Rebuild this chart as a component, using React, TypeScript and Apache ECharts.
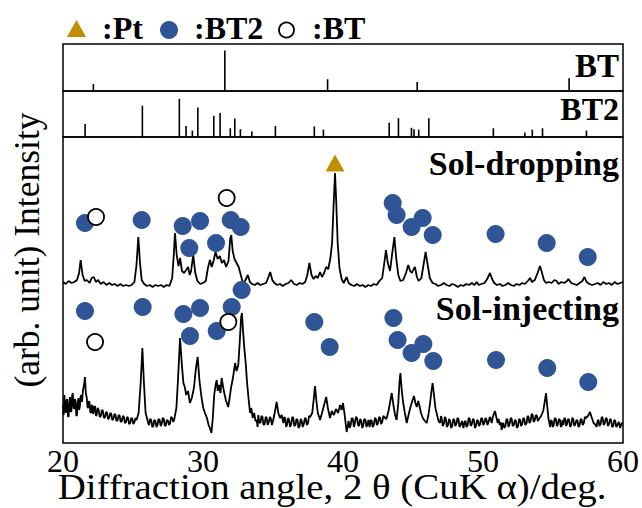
import React, { useEffect, useRef } from "react";
import * as echarts from "echarts";

// 2θ (deg) and relative stick heights of the reference patterns
const btPeaks: [number, number][] = [
  [22.17, 0.15], [31.56, 0.86], [38.9, 0.25], [45.3, 0.19], [56.15, 0.27],
];
const bt2Peaks: [number, number][] = [
  [21.58, 0.28], [25.67, 0.68], [28.31, 0.83], [28.79, 0.24], [29.24, 0.14],
  [29.63, 0.64], [30.77, 0.46], [31.22, 0.52], [31.95, 0.19], [32.27, 0.4],
  [32.67, 0.17], [33.49, 0.12], [35.17, 0.24], [37.95, 0.23], [38.6, 0.16],
  [43.3, 0.31], [43.96, 0.41], [44.89, 0.2], [45.07, 0.17], [45.41, 0.16],
  [46.13, 0.41], [50.74, 0.19], [52.99, 0.1], [53.52, 0.16], [54.25, 0.19],
  [57.39, 0.14],
];

// measured patterns (arb. unit, offset)
const solDropping: [number, number][] = [
  [20.0, 161], [20.2, 159], [20.4, 162], [20.6, 160], [20.8, 161], [21.0, 163], [21.15, 170], [21.26, 183],
  [21.4, 168], [21.55, 162], [21.7, 163], [21.9, 160], [22.05, 165], [22.2, 166], [22.35, 161], [22.5, 163],
  [22.7, 159], [22.9, 161], [23.1, 158], [23.3, 160], [23.5, 158], [23.7, 159], [23.9, 157], [24.1, 159],
  [24.3, 157], [24.5, 158], [24.7, 157], [24.9, 158], [25.1, 161], [25.25, 178], [25.38, 206], [25.5, 180],
  [25.62, 163], [25.8, 159], [26.0, 157], [26.2, 158], [26.4, 156], [26.6, 158], [26.8, 157], [27.0, 158],
  [27.2, 156], [27.4, 158], [27.6, 157], [27.8, 165], [27.92, 190], [28.0, 210], [28.12, 188], [28.25, 177],
  [28.36, 185], [28.5, 172], [28.65, 170], [28.8, 173], [28.93, 176], [29.05, 168], [29.15, 172], [29.3, 188],
  [29.45, 170], [29.6, 162], [29.8, 159], [30.0, 160], [30.2, 162], [30.35, 175], [30.5, 183], [30.62, 176],
  [30.75, 182], [30.9, 191], [31.05, 184], [31.2, 187], [31.35, 180], [31.5, 183], [31.65, 176], [31.82, 182],
  [31.95, 205], [32.02, 208], [32.12, 192], [32.25, 184], [32.4, 180], [32.55, 176], [32.7, 168], [32.85, 160],
  [33.0, 162], [33.2, 168], [33.35, 161], [33.5, 159], [33.7, 158], [33.9, 160], [34.1, 158], [34.3, 159],
  [34.5, 160], [34.65, 165], [34.8, 171], [34.95, 163], [35.1, 160], [35.3, 158], [35.5, 159], [35.7, 157],
  [35.9, 159], [36.1, 160], [36.3, 163], [36.5, 159], [36.7, 158], [36.9, 160], [37.1, 159], [37.3, 161],
  [37.45, 168], [37.6, 180], [37.75, 168], [37.9, 164], [38.05, 167], [38.2, 165], [38.36, 171], [38.5, 166],
  [38.65, 170], [38.8, 176], [38.95, 174], [39.1, 185], [39.22, 200], [39.32, 235], [39.43, 270], [39.52, 240],
  [39.62, 200], [39.75, 175], [39.9, 164], [40.05, 160], [40.26, 166], [40.4, 160], [40.6, 158], [40.8, 157],
  [41.0, 159], [41.2, 157], [41.4, 158], [41.6, 156], [41.8, 158], [42.0, 157], [42.2, 159], [42.4, 158],
  [42.6, 162], [42.8, 165], [42.95, 180], [43.07, 193], [43.2, 180], [43.36, 172], [43.5, 188], [43.67, 206],
  [43.8, 185], [43.95, 168], [44.1, 162], [44.3, 163], [44.5, 170], [44.66, 178], [44.8, 172], [44.92, 170],
  [45.05, 174], [45.14, 176], [45.28, 166], [45.4, 162], [45.6, 165], [45.75, 178], [45.9, 191], [46.05, 178],
  [46.2, 165], [46.4, 160], [46.6, 159], [46.8, 157], [47.0, 158], [47.2, 160], [47.4, 158], [47.6, 157],
  [47.8, 159], [48.0, 158], [48.2, 156], [48.4, 158], [48.6, 157], [48.8, 159], [49.0, 158], [49.2, 160],
  [49.4, 158], [49.55, 161], [49.7, 158], [49.9, 159], [50.1, 160], [50.3, 164], [50.5, 170], [50.65, 164],
  [50.8, 160], [51.0, 158], [51.2, 159], [51.4, 157], [51.6, 158], [51.8, 160], [52.0, 158], [52.2, 157],
  [52.4, 159], [52.6, 158], [52.8, 160], [53.0, 159], [53.2, 162], [53.36, 165], [53.5, 161], [53.7, 163],
  [53.9, 170], [54.07, 177], [54.2, 171], [54.35, 163], [54.5, 160], [54.7, 161], [54.9, 160], [55.1, 163],
  [55.26, 162], [55.4, 159], [55.6, 161], [55.8, 160], [56.0, 162], [56.1, 164], [56.3, 160], [56.5, 159],
  [56.7, 158], [56.9, 160], [57.1, 162], [57.24, 166], [57.4, 161], [57.6, 159], [57.8, 158], [58.0, 159],
  [58.2, 160], [58.4, 158], [58.6, 161], [58.8, 159], [59.0, 160], [59.2, 158], [59.4, 161], [59.6, 159],
  [59.8, 160], [60.0, 161],
];

const solInjecting: [number, number][] = [
  [20.0, 38], [20.05, 28], [20.1, 48], [20.15, 35], [20.2, 30], [20.25, 42], [20.3, 44], [20.35, 27],
  [20.4, 26], [20.45, 40], [20.5, 46], [20.55, 31], [20.6, 32], [20.65, 47], [20.7, 50], [20.75, 36],
  [20.8, 34], [20.85, 44], [20.9, 42], [20.95, 27], [21.0, 28], [21.05, 40], [21.1, 45], [21.15, 33],
  [21.2, 36], [21.25, 46], [21.3, 48], [21.36, 41], [21.42, 52], [21.5, 58], [21.57, 66], [21.63, 50],
  [21.7, 45], [21.75, 36], [21.8, 35], [21.85, 42], [21.9, 40], [21.95, 31], [22.0, 30], [22.05, 37],
  [22.1, 38], [22.15, 29], [22.2, 32], [22.25, 37], [22.3, 36], [22.35, 27], [22.4, 28], [22.48, 35],
  [22.55, 33], [22.62, 26], [22.7, 27], [22.78, 33], [22.85, 32], [22.92, 25], [23.0, 26], [23.08, 31],
  [23.15, 30], [23.22, 24], [23.3, 25], [23.38, 30], [23.45, 29], [23.52, 23], [23.6, 24], [23.68, 29],
  [23.75, 28], [23.82, 22], [23.9, 23], [23.98, 28], [24.05, 27], [24.12, 21], [24.2, 22], [24.28, 27],
  [24.35, 26], [24.42, 20], [24.5, 21], [24.58, 26], [24.65, 25], [24.72, 19], [24.8, 20], [24.88, 25],
  [24.95, 24], [25.02, 19], [25.1, 21], [25.18, 25], [25.25, 23], [25.4, 30], [25.55, 60], [25.67, 95],
  [25.78, 60], [25.9, 30], [26.0, 25], [26.08, 20], [26.15, 18], [26.22, 24], [26.3, 23], [26.38, 16],
  [26.45, 17], [26.52, 23], [26.6, 22], [26.68, 16], [26.75, 18], [26.82, 24], [26.9, 23], [26.98, 17],
  [27.05, 19], [27.12, 25], [27.2, 24], [27.28, 17], [27.35, 18], [27.42, 23], [27.5, 22], [27.58, 18],
  [27.65, 20], [27.72, 26], [27.8, 25], [27.88, 21], [27.95, 24], [28.1, 35], [28.22, 65], [28.36, 105],
  [28.48, 80], [28.6, 60], [28.7, 56], [28.8, 48], [28.93, 52], [29.07, 40], [29.2, 45], [29.35, 55],
  [29.5, 75], [29.62, 86], [29.75, 62], [29.9, 45], [30.02, 35], [30.14, 30], [30.28, 25], [30.4, 18],
  [30.52, 14], [30.6, 10], [30.7, 25], [30.8, 48], [30.9, 58], [30.98, 63], [31.05, 52], [31.15, 58],
  [31.25, 50], [31.33, 65], [31.45, 55], [31.55, 48], [31.65, 42], [31.8, 36], [31.9, 45], [32.0, 55],
  [32.15, 66], [32.29, 80], [32.4, 72], [32.52, 78], [32.62, 100], [32.72, 125], [32.78, 130], [32.86, 112],
  [32.95, 95], [33.05, 80], [33.15, 60], [33.25, 45], [33.36, 30], [33.45, 35], [33.55, 25], [33.65, 30],
  [33.75, 22], [33.83, 23], [33.9, 16], [33.95, 28], [34.02, 21], [34.1, 20], [34.18, 27], [34.25, 26],
  [34.32, 18], [34.4, 19], [34.48, 26], [34.55, 25], [34.62, 18], [34.7, 21], [34.78, 26], [34.85, 24],
  [34.92, 18], [35.0, 22], [35.12, 30], [35.26, 41], [35.38, 30], [35.5, 25], [35.62, 28], [35.74, 20],
  [35.81, 26], [35.88, 24], [35.94, 16], [36.0, 18], [36.08, 25], [36.15, 23], [36.22, 16], [36.3, 19],
  [36.38, 26], [36.45, 25], [36.52, 17], [36.6, 18], [36.68, 24], [36.75, 23], [36.82, 15], [36.9, 17],
  [36.98, 24], [37.05, 22], [37.12, 16], [37.2, 19], [37.28, 25], [37.35, 24], [37.42, 18], [37.5, 20],
  [37.58, 27], [37.65, 26], [37.8, 30], [37.92, 45], [38.0, 57], [38.1, 42], [38.2, 30], [38.3, 26],
  [38.36, 23], [38.5, 30], [38.65, 38], [38.8, 46], [38.92, 35], [39.07, 25], [39.2, 32], [39.35, 28],
  [39.5, 34], [39.65, 30], [39.79, 38], [39.9, 33], [40.0, 40], [40.12, 28], [40.26, 11], [40.4, 22],
  [40.48, 15], [40.55, 18], [40.62, 25], [40.7, 24], [40.78, 16], [40.85, 20], [40.92, 26], [41.0, 25],
  [41.08, 18], [41.15, 17], [41.22, 24], [41.3, 22], [41.38, 15], [41.45, 18], [41.52, 24], [41.6, 23],
  [41.68, 16], [41.75, 19], [41.82, 23], [41.9, 16], [41.98, 23], [42.05, 22], [42.12, 16], [42.2, 18],
  [42.28, 25], [42.35, 24], [42.42, 18], [42.5, 20], [42.58, 26], [42.65, 25], [42.72, 19], [42.8, 21],
  [42.88, 27], [42.95, 26], [43.1, 24], [43.25, 32], [43.38, 42], [43.48, 50], [43.6, 38], [43.72, 28],
  [43.83, 23], [43.95, 40], [44.03, 60], [44.1, 70], [44.2, 52], [44.3, 40], [44.42, 30], [44.55, 20],
  [44.68, 28], [44.8, 35], [44.95, 42], [45.07, 47], [45.17, 40], [45.27, 36], [45.37, 42], [45.45, 38],
  [45.57, 30], [45.7, 25], [45.85, 22], [45.98, 20], [46.1, 28], [46.22, 40], [46.32, 52], [46.4, 60],
  [46.5, 48], [46.6, 35], [46.72, 28], [46.82, 22], [46.93, 20], [47.0, 27], [47.05, 25], [47.12, 17],
  [47.2, 19], [47.28, 26], [47.35, 24], [47.42, 16], [47.5, 18], [47.58, 24], [47.65, 22], [47.72, 15],
  [47.8, 17], [47.88, 24], [47.95, 23], [48.02, 17], [48.1, 19], [48.18, 25], [48.25, 24], [48.32, 16],
  [48.4, 18], [48.5, 22], [48.6, 15], [48.68, 21], [48.75, 22], [48.82, 16], [48.9, 18], [48.98, 25],
  [49.05, 24], [49.12, 17], [49.2, 19], [49.28, 24], [49.35, 23], [49.42, 15], [49.5, 17], [49.58, 23],
  [49.65, 22], [49.72, 17], [49.8, 19], [49.88, 25], [49.95, 24], [50.02, 18], [50.1, 20], [50.18, 25],
  [50.25, 23], [50.32, 18], [50.4, 21], [50.48, 26], [50.55, 24], [50.62, 20], [50.7, 26], [50.8, 30],
  [50.86, 32], [50.95, 26], [51.05, 20], [51.12, 24], [51.2, 18], [51.27, 21], [51.33, 13], [51.4, 19],
  [51.45, 20], [51.52, 15], [51.6, 17], [51.68, 24], [51.75, 23], [51.82, 16], [51.9, 19], [51.98, 25],
  [52.05, 24], [52.12, 17], [52.2, 18], [52.28, 23], [52.35, 22], [52.42, 15], [52.5, 17], [52.58, 24],
  [52.65, 23], [52.72, 17], [52.8, 19], [52.88, 25], [52.95, 24], [53.02, 18], [53.12, 20], [53.18, 27],
  [53.25, 26], [53.32, 20], [53.4, 22], [53.48, 29], [53.55, 28], [53.62, 21], [53.7, 23], [53.78, 28],
  [53.85, 27], [53.92, 22], [54.0, 24], [54.15, 27], [54.3, 32], [54.42, 42], [54.5, 50], [54.58, 38],
  [54.68, 24], [54.8, 16], [54.86, 23], [54.92, 22], [54.98, 16], [55.05, 18], [55.12, 25], [55.2, 24],
  [55.28, 17], [55.35, 19], [55.42, 24], [55.5, 23], [55.56, 16], [55.62, 17], [55.68, 23], [55.74, 18],
  [55.81, 25], [55.88, 24], [55.94, 17], [56.0, 19], [56.08, 24], [56.15, 23], [56.22, 16], [56.3, 18],
  [56.38, 25], [56.45, 24], [56.52, 17], [56.6, 19], [56.68, 23], [56.75, 22], [56.82, 16], [56.9, 18],
  [56.98, 24], [57.05, 23], [57.12, 18], [57.2, 20], [57.28, 26], [57.35, 25], [57.5, 27], [57.64, 31],
  [57.78, 25], [57.9, 20], [58.05, 18], [58.12, 16], [58.18, 22], [58.25, 23], [58.32, 17], [58.4, 19],
  [58.48, 26], [58.55, 25], [58.62, 18], [58.7, 20], [58.78, 25], [58.85, 24], [58.92, 17], [59.0, 19],
  [59.08, 24], [59.15, 23], [59.22, 16], [59.3, 17], [59.38, 23], [59.45, 22], [59.52, 16], [59.6, 18],
  [59.7, 21], [59.8, 15], [59.9, 20], [60.0, 19],
];

// phase markers [2θ, level]
const ptMarkers: [number, number][] = [[39.43, 280]];
const bt2Markers: [number, number][] = [
  [21.57, 220], [25.62, 223], [28.55, 217], [29.79, 222], [29.02, 195], [30.93, 200],
  [31.98, 223], [32.69, 216], [43.55, 240], [43.83, 228], [44.9, 216], [45.69, 225],
  [46.41, 208], [50.9, 209], [54.55, 200], [57.48, 186],
  [21.57, 132], [25.69, 136], [28.6, 129], [29.79, 135], [29.07, 107], [30.98, 112],
  [32.05, 136], [32.76, 153], [37.95, 121], [39.05, 96], [43.6, 125], [43.9, 103],
  [44.9, 90], [45.74, 99], [46.45, 82], [50.93, 83], [54.59, 75], [57.52, 61],
];
const btMarkers: [number, number][] = [
  [22.36, 226], [31.69, 245], [22.29, 101], [31.81, 121],
];

const xTicks = [20, 30, 40, 50, 60];
const panelLabels = ["BT", "BT2", "Sol-dropping", "Sol-injecting"];

const SERIF = '"Liberation Serif", "Times New Roman", serif';
const BLUE = "#2F5597";
const GOLD = "#BF8F00";

export default function App() {
  const ref = useRef<HTMLDivElement>(null);
  useEffect(() => {
    if (!ref.current) return;
    const chart = echarts.init(ref.current, undefined, { renderer: "svg" });
    const gridBase = { left: 63, width: 560, show: true, borderColor: "#000", borderWidth: 1.5, backgroundColor: "transparent" };
    const hiddenX = (i: number) => ({ type: "value", gridIndex: i, min: xTicks[0], max: xTicks[xTicks.length - 1], interval: 10, show: false });
    const legendFont = `bold 32px ${SERIF}`;
    chart.setOption({
      animation: false,
      backgroundColor: "#fff",
      grid: [
        { ...gridBase, top: 44, height: 47 },
        { ...gridBase, top: 91, height: 46 },
        { ...gridBase, top: 137, height: 306 },
      ],
      xAxis: [
        hiddenX(0),
        hiddenX(1),
        {
          type: "value", gridIndex: 2, min: 20, max: 60, interval: 10,
          axisLine: { show: false }, axisTick: { show: false }, splitLine: { show: false },
          axisLabel: { color: "#000", fontSize: 32, lineHeight: 26, fontFamily: SERIF, margin: 5, showMinLabel: true, showMaxLabel: true },
        },
      ],
      yAxis: [
        { type: "value", gridIndex: 0, min: 0, max: 1, show: false },
        { type: "value", gridIndex: 1, min: 0, max: 1, show: false },
        { type: "value", gridIndex: 2, min: 0, max: 306, show: false },
      ],
      series: [
        { name: "BT", type: "bar", xAxisIndex: 0, yAxisIndex: 0, data: btPeaks, barWidth: 1.6, itemStyle: { color: "#000" } },
        { name: "BT2", type: "bar", xAxisIndex: 1, yAxisIndex: 1, data: bt2Peaks, barWidth: 1.6, itemStyle: { color: "#000" } },
        { name: "Sol-dropping", type: "line", xAxisIndex: 2, yAxisIndex: 2, data: solDropping, showSymbol: false, lineStyle: { color: "#000", width: 1.8 }, z: 2 },
        { name: "Sol-injecting", type: "line", xAxisIndex: 2, yAxisIndex: 2, data: solInjecting, showSymbol: false, lineStyle: { color: "#000", width: 1.8 }, z: 2 },
        { name: ":BT2", type: "scatter", xAxisIndex: 2, yAxisIndex: 2, data: bt2Markers, symbol: "circle", symbolSize: 18, itemStyle: { color: BLUE, opacity: 1 }, z: 5 },
        { name: ":BT", type: "scatter", xAxisIndex: 2, yAxisIndex: 2, data: btMarkers, symbol: "circle", symbolSize: 16, itemStyle: { color: "#fff", borderColor: "#000", borderWidth: 1.8, opacity: 1 }, z: 5 },
        { name: ":Pt", type: "scatter", xAxisIndex: 2, yAxisIndex: 2, data: ptMarkers, symbol: "triangle", symbolSize: [19, 17], itemStyle: { color: GOLD, opacity: 1 }, z: 5 },
      ],
      graphic: [
        { type: "polygon", shape: { points: [[67, 37], [86, 37], [76.5, 20]] }, style: { fill: GOLD } },
        { type: "text", x: 102, y: 28, style: { text: ":Pt", font: legendFont, fill: "#000", align: "left", verticalAlign: "middle" } },
        { type: "circle", shape: { cx: 169, cy: 30, r: 9 }, style: { fill: BLUE } },
        { type: "text", x: 194, y: 28, style: { text: ":BT2", font: legendFont, fill: "#000", align: "left", verticalAlign: "middle" } },
        { type: "circle", shape: { cx: 286.5, cy: 30, r: 7.5 }, style: { fill: "#fff", stroke: "#000", lineWidth: 1.8 } },
        { type: "text", x: 312, y: 28, style: { text: ":BT", font: legendFont, fill: "#000", align: "left", verticalAlign: "middle" } },
        { type: "text", x: 619, y: 66, style: { text: panelLabels[0], font: `bold 33px ${SERIF}`, fill: "#000", align: "right", verticalAlign: "middle" } },
        { type: "text", x: 619, y: 109, style: { text: panelLabels[1], font: `bold 32px ${SERIF}`, fill: "#000", align: "right", verticalAlign: "middle" } },
        { type: "text", x: 619, y: 163, style: { text: panelLabels[2], font: `bold 34px ${SERIF}`, fill: "#000", align: "right", verticalAlign: "middle" } },
        { type: "text", x: 619, y: 308, style: { text: panelLabels[3], font: `bold 34px ${SERIF}`, fill: "#000", align: "right", verticalAlign: "middle" } },
        { type: "text", x: 27, y: 250, rotation: Math.PI / 2, style: { text: "(arb. unit) Intensity", font: `35.5px ${SERIF}`, fill: "#000", align: "center", verticalAlign: "middle" } },
        { type: "text", x: 332, y: 487, scaleX: 1.08, style: { text: "Diffraction angle, 2 θ (CuK α)/deg.", font: `36px ${SERIF}`, lineHeight: 28, fill: "#000", align: "center", verticalAlign: "middle" } },
      ],
    });
    return () => chart.dispose();
  }, []);
  return <div ref={ref} style={{ position: "fixed", left: 0, top: 0, width: 642, height: 508 }} />;
}
